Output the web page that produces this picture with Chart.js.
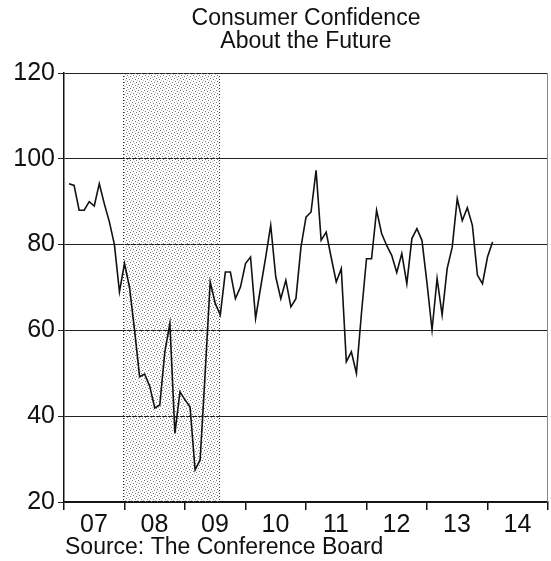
<!DOCTYPE html>
<html lang="en">
<head>
  <meta charset="UTF-8">
  <title>Consumer Confidence About the Future</title>
  <style>
    html, body { margin: 0; padding: 0; background: #fff; }
    #grafico { display: block; }
  </style>
</head>
<body>
  <canvas id="grafico" width="551" height="561"></canvas>

  <script src="https://cdn.jsdelivr.net/npm/chart.js"></script>

  <script>
    // monthly index (first point = end of Jan 2007)
    const confianza = [
      94.2, 93.8, 88, 88, 90, 89, 94.2, 89.5, 85.3, 80, 69, 75.6,
      70, 60, 49.2, 49.8, 47, 41.9, 42.6, 55, 61.6, 36, 45.7, 43.8,
      42.2, 27.5, 29.8, 50, 71.3, 66.3, 63.6, 73.6, 73.6, 67.4, 70.1, 75.6,
      77.1, 62.8, 70, 77, 84.5, 72.5, 67.4, 71.7, 65.5, 67.4, 79.4, 86.4,
      87.6, 97.3, 81, 82.9, 77, 71.3, 74.4, 52.7, 55, 50, 64, 76.7,
      76.7, 88, 82.6, 79.8, 77.5, 73.5, 77.9, 70.9, 81.4, 83.7, 81, 71,
      60.1, 72.1, 63.6, 74.4, 79.4, 90.7, 85.6, 88.6, 84.5, 72.9, 70.9, 77.1,
      80.6
    ];
    const primerMes = 1;            // months after Jan 2007
    const anios = ["07", "08", "09", "10", "11", "12", "13", "14"];
    const recesion = [11.8, 30.7];   // shaded period, months after Jan 2007
    const ejeY = [20, 120];
    const titulo = ["Consumer Confidence", "About the Future"];
    const fuente = "Source: The Conference Board";

    document.addEventListener("DOMContentLoaded", ()=>{
      const lienzo = document.getElementById("grafico");
      const fuenteTexto = "'Liberation Sans', Arial, sans-serif";

      // sparse dots for the recession band
      const tile = document.createElement("canvas");
      tile.width = 6; tile.height = 6;
      const tc = tile.getContext("2d");
      tc.fillStyle = "#777";
      tc.fillRect(0, 0, 1, 1);
      tc.fillRect(3, 1, 1, 1);
      tc.fillRect(1, 3, 1, 1);
      tc.fillRect(4, 4, 1, 1);
      tc.fillStyle = "#bbb";
      tc.fillRect(2, 5, 1, 1);
      tc.fillRect(5, 2, 1, 1);
      const patron = lienzo.getContext("2d").createPattern(tile, "repeat");

      const puntos = confianza.map((v, i)=> ({x: primerMes + i, y: v}));

      const extras = {
        id: "extras",
        beforeDatasetsDraw(chart){
          const {ctx, chartArea, scales} = chart;
          const x1 = scales.x.getPixelForValue(recesion[0]);
          const x2 = scales.x.getPixelForValue(recesion[1]);
          ctx.save();
          ctx.fillStyle = patron;
          ctx.fillRect(x1, chartArea.top, x2 - x1, chartArea.bottom - chartArea.top);
          ctx.strokeStyle = "#333";
          ctx.lineWidth = 1;
          ctx.setLineDash([1, 2]);
          ctx.beginPath();
          ctx.moveTo(Math.round(x1) + 0.5, chartArea.top);
          ctx.lineTo(Math.round(x1) + 0.5, chartArea.bottom);
          ctx.moveTo(Math.round(x2) + 0.5, chartArea.top);
          ctx.lineTo(Math.round(x2) + 0.5, chartArea.bottom);
          ctx.stroke();
          ctx.restore();
        },
        afterDraw(chart){
          const {ctx, chartArea} = chart;
          ctx.save();
          // right border
          ctx.strokeStyle = "#888";
          ctx.lineWidth = 1;
          ctx.beginPath();
          ctx.moveTo(chartArea.right - 0.5, chartArea.top);
          ctx.lineTo(chartArea.right - 0.5, chartArea.bottom);
          ctx.stroke();
          // title
          ctx.fillStyle = "#111";
          ctx.font = "23px " + fuenteTexto;
          ctx.textAlign = "center";
          ctx.textBaseline = "middle";
          const cx = (chartArea.left + chartArea.right) / 2;
          ctx.fillText(titulo[0], cx, 19);
          ctx.fillText(titulo[1], cx, 42);
          // source
          ctx.textAlign = "left";
          ctx.fillText(fuente, 65, 548);
          ctx.restore();
        }
      };

      new Chart(lienzo, {
        type: "line",
        data: {
          datasets: [{
            data: puntos,
            borderColor: "#111",
            borderWidth: 1.6,
            pointRadius: 0,
            tension: 0,
            fill: false
          }]
        },
        options: {
          responsive: false,
          animation: false,
          layout: { padding: { top: 73, right: 3, left: 0, bottom: 0 } },
          plugins: { legend: { display: false }, tooltip: { enabled: false } },
          scales: {
            x: {
              type: "linear",
              min: 0,
              max: anios.length * 12,
              afterFit: (s)=>{ s.height = 59; },
              afterBuildTicks: (s)=>{
                s.ticks = anios.map((a, i)=> ({value: i * 12})).concat([{value: anios.length * 12}]);
              },
              border: { color: "#111", width: 1.5 },
              grid: { drawOnChartArea: false, color: "#111", tickLength: 8, lineWidth: 1.5 },
              ticks: {
                autoSkip: false,
                maxRotation: 0,
                labelOffset: 30,
                padding: 0,
                color: "#111",
                font: { family: fuenteTexto, size: 25 },
                callback: (v)=> anios[v / 12] || ""
              }
            },
            y: {
              min: ejeY[0],
              max: ejeY[1],
              afterFit: (s)=>{ s.width = 64; },
              border: { color: "#111", width: 1.5 },
              grid: { color: "#222", lineWidth: 1, tickLength: 6 },
              ticks: {
                stepSize: 20,
                padding: 3,
                color: "#111",
                font: { family: fuenteTexto, size: 25 }
              }
            }
          }
        },
        plugins: [extras]
      });
    });
  </script>
</body>
</html>
